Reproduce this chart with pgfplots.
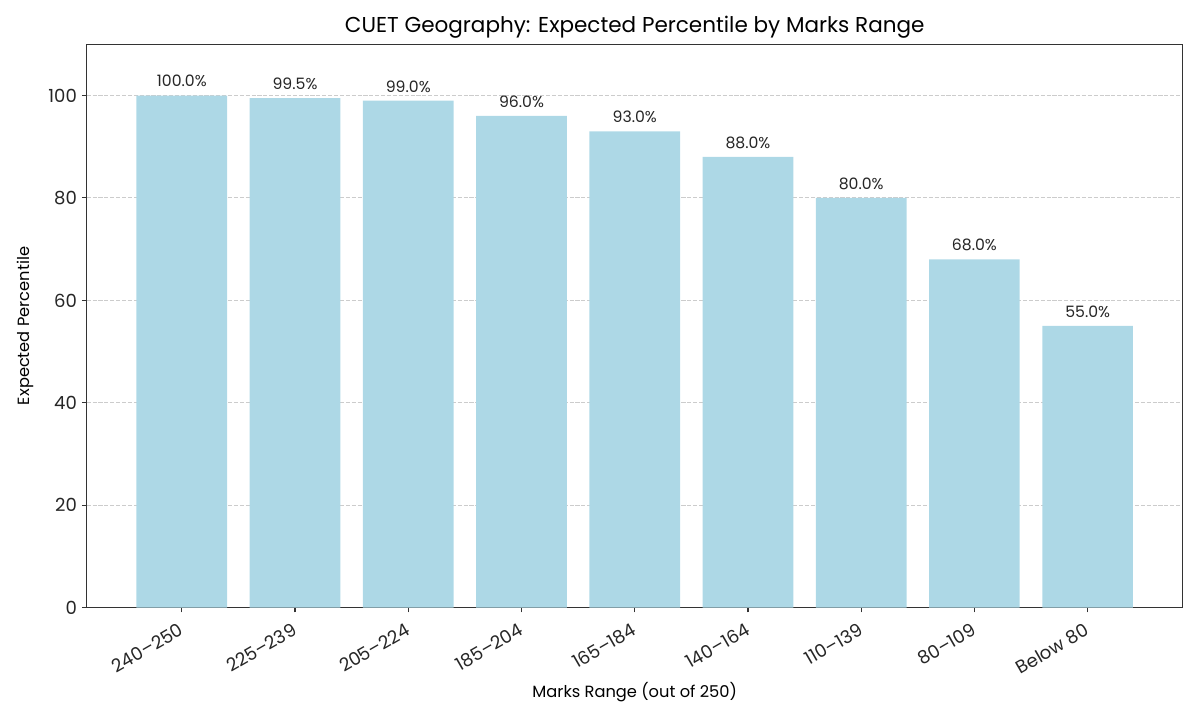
\documentclass[border=0pt]{standalone}
\usepackage{pgfplots}
\pgfplotsset{compat=1.18}
\usepackage{fontspec}
\setmainfont{Poppins}
\definecolor{barblue}{HTML}{ADD8E6}
\definecolor{gridgray}{HTML}{CCCCCC}
\definecolor{axisgray}{HTML}{333333}

\begin{document}
\begin{tikzpicture}
\path[use as bounding box] (0,0) rectangle (864pt,518.4pt);
\begin{axis}[
    at={(62.4pt,80.9pt)}, anchor=south west,
    scale only axis, width=789.2pt, height=405.6pt,
    xmin=-0.84, xmax=8.84, ymin=0, ymax=110,
    ybar, bar width=0.8,
    xtick={0,...,8},
    xticklabels={240--250,225--239,205--224,185--204,165--184,140--164,110--139,80--109,Below 80},
    ytick={0,20,...,100},
    /pgf/number format/assume math mode=true,
    tick label style={font=\fontsize{13}{15}\selectfont, text=black!85},
    xticklabel style={rotate=30, anchor=north east, xshift=-2.5pt, yshift=-1.5pt},
    ymajorgrids,
    grid style={gridgray, dash pattern=on 2.96pt off 1.28pt, line width=0.8pt},
    tick align=outside, tick pos=left, major tick length=3.5pt,
    axis line style={axisgray, line width=0.8pt},
    tick style={axisgray, line width=0.8pt},
    title={CUET Geography: Expected Percentile by Marks Range},
    % the default title style shifts up by 6pt; cancel it
    title style={at={(axis description cs:0.5,1.0307)}, anchor=center, yshift=-6pt, font=\fontsize{15.5}{18}\selectfont},
    xlabel={Marks Range (out of 250)},
    xlabel style={at={(axis description cs:0.5,-0.1496)}, anchor=center, font=\fontsize{11.7}{14}\selectfont},
    ylabel={Expected Percentile},
    ylabel style={at={(axis description cs:-0.0563,0.5)}, anchor=center, font=\fontsize{11.7}{14}\selectfont},
    nodes near coords={\pgfmathprintnumber[fixed,fixed zerofill,precision=1,assume math mode=true]{\pgfplotspointmeta}\%},
    nodes near coords style={font=\fontsize{11.3}{13}\selectfont, text=black!85, yshift=2.5pt},
]
\addplot[fill=barblue, draw=none] coordinates {
    (0,100) (1,99.5) (2,99) (3,96) (4,93) (5,88) (6,80) (7,68) (8,55)
};
\end{axis}
\end{tikzpicture}
\end{document}
